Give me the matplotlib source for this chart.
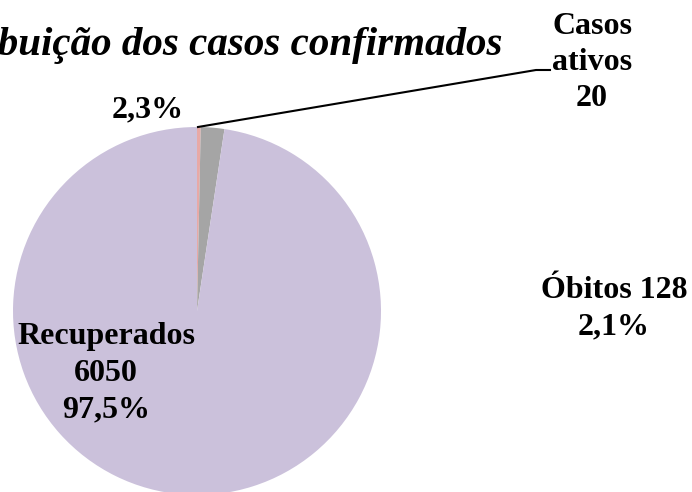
import matplotlib.pyplot as plt

# Data
labels = ["Casos ativos", "Óbitos", "Recuperados"]
values = [20, 128, 6050]
label_lines = [["Casos", "ativos", "20"],
               ["Óbitos 128", "2,1%"],
               ["Recuperados", "6050", "97,5%"]]
pct_text = "2,3%"
colors = ["#E8A9A6", "#A5A5A5", "#CBC1DB"]
title = "Distribuição dos casos confirmados"

W, H = 692, 492
fig = plt.figure(figsize=(W / 100, H / 100), dpi=100)
ax = fig.add_axes([0, 0, 1, 1])

# pie placed in pixel coordinates (y measured from the bottom)
cx, cy, r = 197, H - 311, 184
ax.pie(values, colors=colors, startangle=90, counterclock=False,
       center=(cx, cy), radius=r, frame=True,
       wedgeprops=dict(linewidth=0))
ax.set_xlim(0, W)
ax.set_ylim(0, H)
ax.set_aspect('equal')
ax.axis('off')

font = dict(family=['Liberation Serif', 'DejaVu Serif'], fontweight='bold')

# title runs off the left edge, as in the original
ax.text(503, H - 55, title, ha='right', va='baseline', fontsize=29.5,
        fontstyle='italic', **font)

# label x centre and baseline of each line (pixels from top)
label_pos = [(592, [34, 70, 106]), (614, [298, 334]), (106, [344, 381, 417])]
for lines, (x, baselines) in zip(label_lines, label_pos):
    for txt, yb in zip(lines, baselines):
        ax.text(x, H - yb, txt, ha='center', va='baseline', fontsize=23, **font)
ax.text(148, H - 117, pct_text, ha='center', va='baseline', fontsize=23, **font)

# leader line for "Casos ativos"
ax.plot([cx + 1, 536, 550], [cy + r, H - 70, H - 70], color='black', lw=1.5)

fig.savefig("out.png", dpi=100)
